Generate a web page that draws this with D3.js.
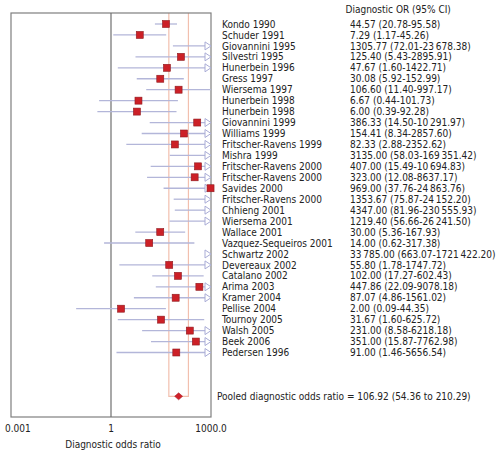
<!DOCTYPE html>
<html><head><meta charset="utf-8">
<script src="https://cdn.jsdelivr.net/npm/d3@7"></script>
<style>
body{margin:0;background:#fff;}
text{font-family:"DejaVu Sans Condensed","DejaVu Sans",sans-serif;font-stretch:condensed;font-size:10px;fill:#222;}
</style></head><body>
<script>
const studies = ["Kondo 1990","Schuder 1991","Giovannini 1995","Silvestri 1995","Hunerbein 1996","Gress 1997","Wiersema 1997","Hunerbein 1998","Hunerbein 1998","Giovannini 1999","Williams 1999","Fritscher-Ravens 1999","Mishra 1999","Fritscher-Ravens 2000","Fritscher-Ravens 2000","Savides 2000","Fritscher-Ravens 2000","Chhieng 2001","Wiersema 2001","Wallace 2001","Vazquez-Sequeiros 2001","Schwartz 2002","Devereaux 2002","Catalano 2002","Arima 2003","Kramer 2004","Pellise 2004","Tournoy 2005","Walsh 2005","Beek 2006","Pedersen 1996"];
const orValues = [44.57,7.29,1305.77,125.40,47.67,30.08,106.60,6.67,6.00,386.33,154.41,82.33,3135.00,407.00,323.00,969.00,1353.67,4347.00,1219.40,30.00,14.00,33785.00,55.80,102.00,447.86,87.07,2.00,31.67,231.00,351.00,91.00];
const ciLow = [20.78,1.17,72.01,5.43,1.60,5.92,11.40,0.44,0.39,14.50,8.34,2.88,58.03,15.49,12.08,37.76,75.87,81.96,56.66,5.36,0.62,663.07,1.78,17.27,22.09,4.86,0.09,1.60,8.58,15.87,1.46];
const ciHigh = [95.58,45.26,23678.38,2895.91,1422.71,152.99,997.17,101.73,92.28,10291.97,2857.60,2352.62,169351.42,10694.83,8637.17,24863.76,24152.20,230555.93,26241.50,167.93,317.38,1721422.20,1747.72,602.43,9078.18,1561.02,44.35,625.72,6218.18,7762.98,5656.54];
const pooled = {or:106.92, lo:54.36, hi:210.29};
const tickValues = [0.001, 1, 1000];
const tickLabels = ["0.001","1","1000.0"];

const W=497,H=453;
const svg=d3.select("body").append("svg").attr("width",W).attr("height",H);
const x=d3.scaleLog().domain([0.001,1000]).range([11,211]);
const rowStep=10.95, row0=24;
const y=i=>row0+rowStep*i;
const pooledRow = studies.length+3;
const plotTop=13,plotBottom=417;
const fmt=v=>{
  const s=v.toFixed(2);
  const [ip,dp]=s.split(".");
  if(ip.length>=5) return ip.slice(0,-3)+"\u2009"+ip.slice(-3)+"."+dp;
  return s;
};

// pooled CI band
const g=svg.append("g");
g.append("path")
 .attr("d",`M${x(pooled.lo)},${plotTop}V${y(pooledRow)}H${x(pooled.hi)}V${plotTop}`)
 .attr("fill","none").attr("stroke","#f2bfae").attr("stroke-width",1.2);

// frame
svg.append("rect").attr("x",11).attr("y",plotTop).attr("width",200).attr("height",plotBottom-plotTop)
 .attr("fill","none").attr("stroke","#7f7f7f").attr("stroke-width",1.2);
svg.append("line").attr("x1",x(1)).attr("x2",x(1)).attr("y1",plotTop).attr("y2",plotBottom)
 .attr("stroke","#6f6f6f").attr("stroke-width",1.2);

const [dmin,dmax]=x.domain();
const marks=svg.append("g");
studies.forEach((s,i)=>{
  const lo=Math.max(ciLow[i],dmin), hi=Math.min(ciHigh[i],dmax);
  const cy=y(i);
  const arrow=ciHigh[i]>dmax;
  const xEnd = arrow ? x(dmax)-6 : x(hi);
  marks.append("line").attr("x1",x(lo)).attr("x2",xEnd).attr("y1",cy).attr("y2",cy)
   .attr("stroke","#b3b6d9").attr("stroke-width",1.3);
  if(arrow){
    const tx=x(dmax);
    marks.append("path").attr("d",`M${tx-6},${cy-4}L${tx},${cy}L${tx-6},${cy+4}Z`)
     .attr("fill","#fff").attr("stroke","#a9acd6").attr("stroke-width",1);
  }
  if(orValues[i]<=dmax){
    const cx=x(orValues[i]);
    marks.append("rect").attr("x",cx-3.5).attr("y",cy-3.5).attr("width",7).attr("height",7)
     .attr("fill","#cc2027").attr("stroke","#8e1a1f").attr("stroke-width",0.6);
  }
  svg.append("text").attr("x",222).attr("y",cy+3.6).text(s);
  svg.append("text").attr("x",350).attr("y",cy+3.6).text(`${fmt(orValues[i])} (${fmt(ciLow[i])}-${fmt(ciHigh[i])})`);
});

// pooled diamond
const py=y(pooledRow), px=x(pooled.or);
marks.append("path").attr("d",`M${px-4},${py}L${px},${py-3.5}L${px+4},${py}L${px},${py+3.5}Z`)
 .attr("fill","#d0202a").attr("stroke","#a01a20").attr("stroke-width",0.5);
svg.append("text").attr("x",217).attr("y",py+3.6)
 .text(`Pooled diagnostic odds ratio = ${fmt(pooled.or)} (${fmt(pooled.lo)} to ${fmt(pooled.hi)})`);

svg.append("text").attr("x",345.5).attr("y",12.8).text("Diagnostic OR (95% CI)");

// axis labels
tickValues.forEach((t,k)=>{
  const anchor = k===0?"start":"middle";
  const xx = k===0?5:x(t);
  svg.append("text").attr("x",xx).attr("y",432).attr("text-anchor",anchor).text(tickLabels[k]);
});
svg.append("text").attr("x",113).attr("y",447.5).attr("text-anchor","middle").text("Diagnostic odds ratio");
</script>
</body></html>
